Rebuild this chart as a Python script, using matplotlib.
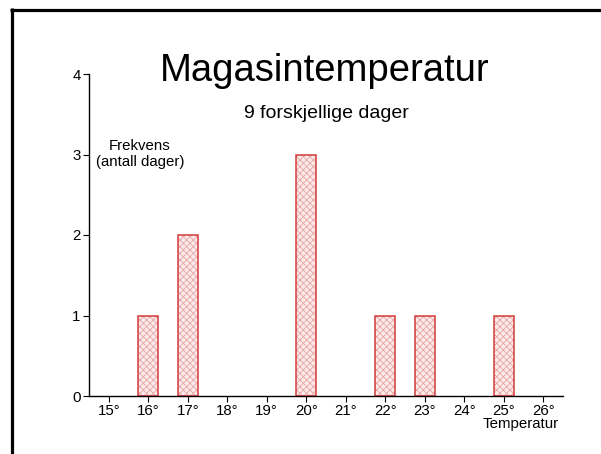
import matplotlib.pyplot as plt
from matplotlib.lines import Line2D

plt.rcParams['font.family'] = ['Liberation Sans', 'DejaVu Sans']
plt.rcParams['hatch.linewidth'] = 0.6

# temperature (degrees) and number of days
temps = [16, 17, 20, 22, 23, 25]
days = [1, 2, 3, 1, 1, 1]
tick_temps = list(range(15, 27))
tick_labels = [f"{t}°" for t in tick_temps]

W, H = 601, 454
fig = plt.figure(figsize=(W / 100, H / 100), dpi=100)
ax = fig.add_axes([89 / W, 1 - 396 / H, (563 - 89) / W, (396 - 74) / H])

# hatched fill, then the red outline on top
ax.bar(temps, days, width=0.5, color='#fbeaea', edgecolor='#eaa5a5',
       hatch='xxxxx', linewidth=0)
ax.bar(temps, days, width=0.5, fill=False, edgecolor='#d23a3a', linewidth=1.1)

ax.set_xlim(14.5, 26.5)
ax.set_ylim(0, 4)
ax.set_xticks(tick_temps)
ax.set_xticklabels(tick_labels)
ax.set_yticks([0, 1, 2, 3, 4])
ax.tick_params(axis='both', labelsize=10.8, length=4, width=0.8, pad=2)
for s in ['top', 'right']:
    ax.spines[s].set_visible(False)
for s in ['left', 'bottom']:
    ax.spines[s].set_linewidth(1.0)

fig.text(325 / W, 1 - 71 / H, "Magasintemperatur", ha='center', va='center',
         fontsize=27.5)
fig.text(326 / W, 1 - 113 / H, "9 forskjellige dager", ha='center',
         va='center', fontsize=14)
fig.text(140 / W, 1 - 154 / H, "Frekvens\n(antall dager)", ha='center',
         va='center', fontsize=10.8, linespacing=1.15)
fig.text(521 / W, 1 - 424 / H, "Temperatur", ha='center', va='center',
         fontsize=10.8)

# frame on top and left edge
fig.add_artist(Line2D([10 / W, 1], [1 - 9.5 / H, 1 - 9.5 / H],
                      transform=fig.transFigure, color='black', linewidth=2.3,
                      solid_capstyle='butt'))
fig.add_artist(Line2D([11.5 / W, 11.5 / W], [1 - 8 / H, 0],
                      transform=fig.transFigure, color='black', linewidth=2.3,
                      solid_capstyle='butt'))

fig.savefig('out.png', dpi=100)
